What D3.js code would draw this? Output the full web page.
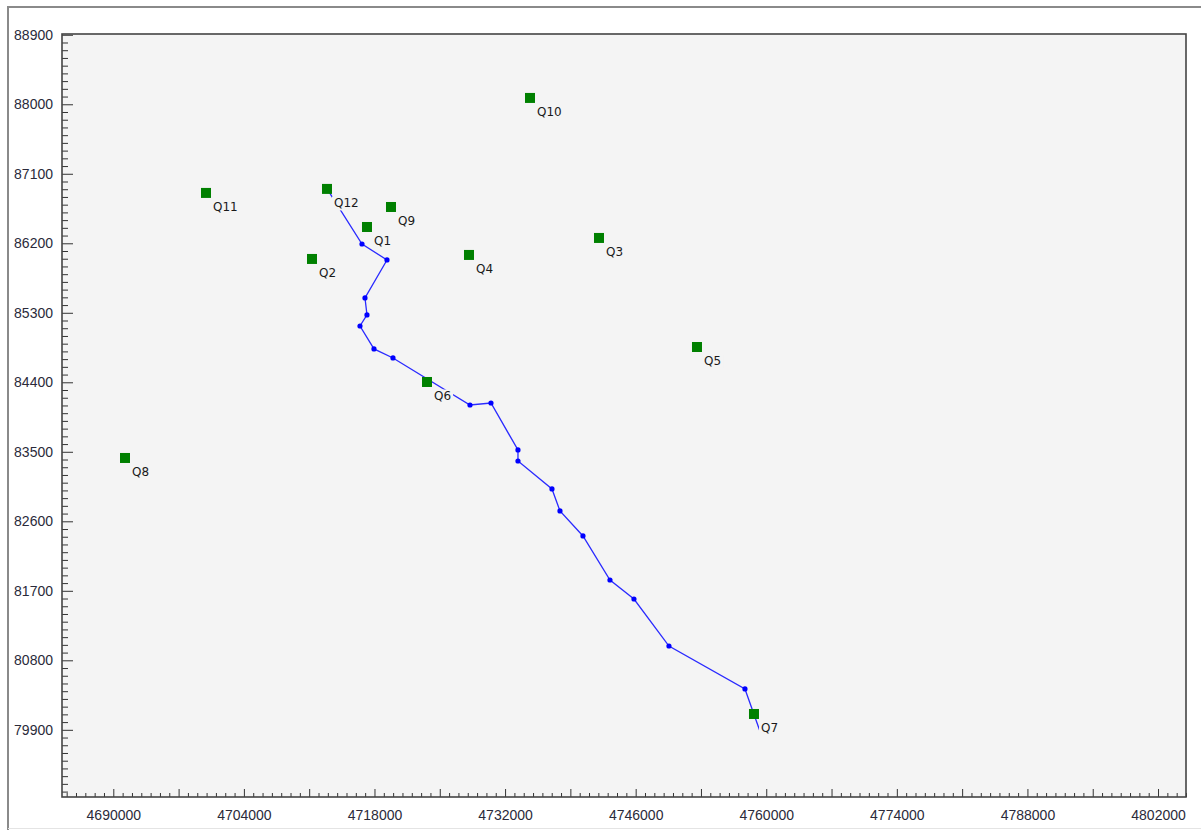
<!DOCTYPE html>
<html>
<head>
<meta charset="utf-8">
<script src="https://cdn.jsdelivr.net/npm/d3@7"></script>
<style>
  body { margin: 0; background: #fff; }
  svg { display: block; font-family: "DejaVu Sans", Verdana, sans-serif; }
  .tick text { fill: #2a2a3a; font-size: 14px; }
  .lbl { fill: #1a1a1a; font-size: 12px; }
</style>
</head>
<body>
<svg width="1201" height="830"></svg>
<script>
// station names and coordinates
let stationNames = ["Q1", "Q2", "Q3", "Q4", "Q5", "Q6", "Q7", "Q8", "Q9", "Q10", "Q11", "Q12"];
let stationX = [4717197, 4711301, 4742069, 4728132, 4752575, 4723630, 4758685, 4691254, 4719770, 4734672, 4699937, 4712909];
let stationY = [86411, 85997, 86269, 86049, 84857, 84404, 80105, 83420, 86670, 88082, 86852, 86904];

// polyline (first and last vertex drawn without marker)
let pathX = [4713122, 4716660, 4719340, 4716982, 4717196, 4716446, 4717946, 4719983, 4728238, 4730489,
             4733383, 4733383, 4737028, 4737886, 4740351, 4743246, 4745818, 4749570, 4757718, 4759433];
let pathY = [86865, 86191, 85984, 85492, 85272, 85129, 84832, 84715, 84106, 84132,
             83524, 83381, 83019, 82734, 82410, 81840, 81594, 80985, 80429, 79846];

// axis ticks
let xLabelTicks = [4690000, 4704000, 4718000, 4732000, 4746000, 4760000, 4774000, 4788000, 4802000];
let yLabelTicks = [79900, 80800, 81700, 82600, 83500, 84400, 85300, 86200, 87100, 88000, 88900];

let svg = d3.select("svg"),
    pLeft = 62, pRight = 1186, pTop = 34, pBottom = 797;

let x = d3.scaleLinear().domain([4684500, 4805000]).range([pLeft, pRight]);
let y = d3.scaleLinear().domain([79030, 88910]).range([pBottom, pTop]);

// window frame
svg.append("path")
    .attr("d", "M8,830 V7 H1201")
    .attr("fill", "none")
    .attr("stroke", "#8a8a8a")
    .attr("stroke-width", 2);
svg.append("line")
    .attr("x1", 8).attr("x2", 1201).attr("y1", 828.5).attr("y2", 828.5)
    .attr("stroke", "#e4e4e4");

// plot area
svg.append("rect")
    .attr("x", pLeft).attr("y", pTop)
    .attr("width", pRight - pLeft).attr("height", pBottom - pTop)
    .attr("fill", "#f4f4f4");

// minor ticks
let xMinor = d3.range(4685000, 4805001, 1000).filter(v => v % 7000 !== 0);
let xMid = d3.range(4683000, 4805001, 7000).filter(v => v >= 4684500);
let yMinor = d3.range(79100, 88901, 100).filter(v => (v - 79900) % 900 !== 0);

svg.append("g")
    .attr("transform", `translate(0,${pBottom})`)
    .call(d3.axisBottom(x).tickValues(xMinor).tickSize(-4).tickFormat(""))
    .call(g => g.select(".domain").remove());
svg.append("g")
    .attr("transform", `translate(0,${pBottom})`)
    .call(d3.axisBottom(x).tickValues(xMid).tickSize(-8).tickFormat(""))
    .call(g => g.select(".domain").remove());
svg.append("g")
    .attr("transform", `translate(0,${pBottom})`)
    .call(d3.axisBottom(x).tickValues(xLabelTicks).tickSize(0).tickPadding(13).tickFormat(d3.format("d")))
    .call(g => g.select(".domain").remove());

svg.append("g")
    .attr("transform", `translate(${pLeft},0)`)
    .call(d3.axisLeft(y).tickValues(yMinor).tickSize(-6).tickFormat(""))
    .call(g => g.select(".domain").remove());
svg.append("g")
    .attr("transform", `translate(${pLeft},0)`)
    .call(d3.axisLeft(y).tickValues(yLabelTicks).tickSize(-11).tickPadding(9).tickFormat(d3.format("d")))
    .call(g => g.select(".domain").remove());

svg.selectAll(".tick line").attr("stroke", "#333");

// plot border
svg.append("rect")
    .attr("x", pLeft).attr("y", pTop)
    .attr("width", pRight - pLeft).attr("height", pBottom - pTop)
    .attr("fill", "none")
    .attr("stroke", "#444")
    .attr("stroke-width", 1.6);

// polyline
let pts = pathX.map((v, i) => [x(v), y(pathY[i])]);
svg.append("path")
    .datum(pts)
    .attr("d", d3.line())
    .attr("fill", "none")
    .attr("stroke", "#2a2aff")
    .attr("stroke-width", 1.3);

svg.append("g")
    .selectAll("circle")
    .data(pts.slice(1, -1))
    .enter().append("circle")
        .attr("cx", d => d[0])
        .attr("cy", d => d[1])
        .attr("r", 2.6)
        .attr("fill", "#0000ff");

// station labels with background
let labels = svg.append("g")
    .selectAll("g")
    .data(stationNames)
    .enter().append("g")
        .attr("transform", (d, i) => `translate(${x(stationX[i]) + 7},${y(stationY[i]) + 18.5})`);

labels.append("text")
    .attr("class", "lbl")
    .text(d => d);

labels.each(function () {
    let g = d3.select(this),
        b = g.select("text").node().getBBox();
    g.insert("rect", "text")
        .attr("x", b.x - 2).attr("y", b.y)
        .attr("width", b.width + 4).attr("height", b.height)
        .attr("fill", "#f4f4f4");
});

// station squares
svg.append("g")
    .selectAll("rect")
    .data(stationNames)
    .enter().append("rect")
        .attr("x", (d, i) => x(stationX[i]) - 5)
        .attr("y", (d, i) => y(stationY[i]) - 5)
        .attr("width", 10)
        .attr("height", 10)
        .attr("fill", "#008000");
</script>
</body>
</html>
